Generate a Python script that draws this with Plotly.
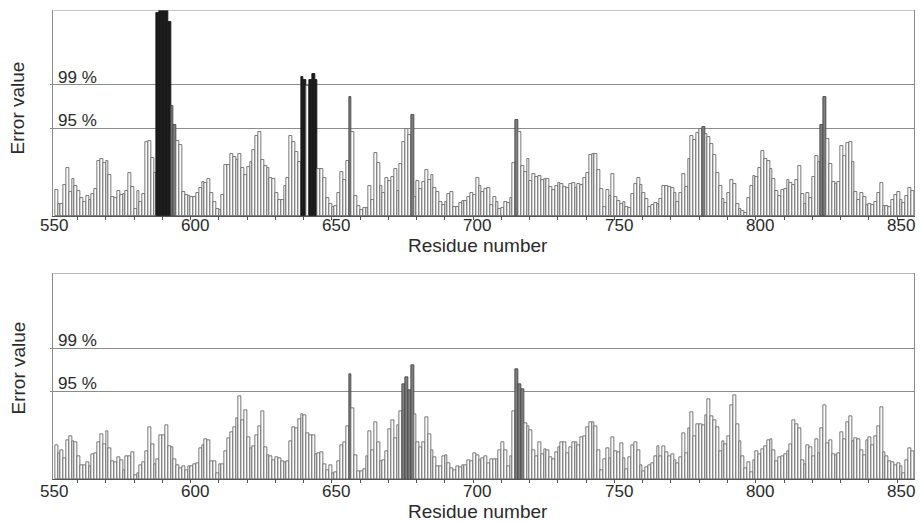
import plotly.graph_objects as go

W, H = 921, 523

# residue numbers (one bar per residue)
residues = list(range(551, 855))

# Error values, upper panel (arbitrary units; plot top = 10)
top_values = [
    1.26, 0.58, 0.58, 1.5, 2.35, 1.18, 1.8, 1.46, 1.21, 0.86,
    0.7, 0.99, 0.78, 1.05, 1.29, 2.69, 2.75, 2.56, 2.65, 1.99,
    0.91, 0.87, 1.21, 1.0, 1.05, 1.21, 2.09, 1.41, 0.32, 1.2,
    0.7, 1.05, 3.58, 3.64, 2.84, 2.09, 9.85, 10.2, 10.4, 10.3,
    9.4, 5.34, 4.42, 3.64, 3.45, 1.15, 1.02, 0.99, 0.94, 0.94,
    1.1, 1.34, 1.67, 1.59, 1.8, 1.13, 0.7, 0.35, 0.3, 1.0,
    2.5, 2.5, 3.0, 2.85, 2.7, 3.0, 2.35, 2.0, 2.4, 2.6,
    3.2, 3.9, 4.1, 2.7, 2.45, 2.35, 1.85, 1.8, 1.1, 0.8,
    0.8, 1.45, 1.85, 3.9, 3.6, 3.1, 2.6, 6.73, 6.62, 6.3,
    6.6, 6.9, 6.6, 2.27, 2.27, 1.83, 0.86, 0.58, 0.45, 0.5,
    1.1, 2.15, 1.75, 2.67, 5.79, 4.09, 0.97, 0.49, 0.29, 0.37,
    0.37, 1.46, 0.78, 3.04, 2.59, 1.46, 1.13, 1.83, 1.7, 1.88,
    2.27, 1.21, 2.51, 3.58, 4.22, 3.93, 4.9, 0.94, 1.7, 1.29,
    1.67, 2.23, 1.75, 1.99, 1.34, 1.18, 0.66, 0.53, 0.7, 1.05,
    1.15, 0.42, 0.42, 0.65, 0.73, 0.73, 0.91, 1.1, 1.02, 1.86,
    1.47, 1.18, 1.31, 1.38, 0.53, 0.94, 0.7, 0.32, 0.37, 0.7,
    0.65, 0.86, 2.59, 4.66, 4.09, 2.44, 2.15, 2.77, 1.7, 2.02,
    1.88, 1.95, 1.75, 1.78, 1.78, 1.42, 1.26, 1.47, 1.62, 1.54,
    1.42, 1.38, 1.54, 1.59, 1.34, 1.54, 1.5, 1.86, 2.07, 2.96,
    3.01, 3.0, 2.23, 1.29, 0.42, 1.26, 0.97, 2.02, 0.94, 0.73,
    0.58, 0.7, 0.42, 0.37, 1.07, 1.54, 1.83, 1.5, 1.1, 0.81,
    0.45, 0.53, 0.61, 0.6, 0.81, 1.46, 1.46, 1.39, 1.38, 1.13,
    0.7, 1.1, 2.02, 1.42, 2.75, 3.88, 3.69, 4.05, 4.21, 4.34,
    3.96, 3.85, 3.48, 2.96, 2.07, 1.46, 0.81, 0.65, 1.13, 1.75,
    1.54, 0.57, 0.32, 0.26, 0.16, 0.86, 1.46, 1.94, 1.91, 2.31,
    3.17, 2.75, 2.69, 2.28, 1.78, 1.21, 0.99, 1.26, 1.31, 1.75,
    1.59, 1.5, 1.75, 2.43, 1.05, 0.58, 1.1, 0.89, 1.91, 2.93,
    2.64, 4.42, 5.76, 3.72, 2.51, 1.67, 1.54, 1.67, 3.4, 2.91,
    3.53, 3.61, 2.64, 1.15, 0.78, 1.1, 0.94, 0.53, 0.58, 0.53,
    0.7, 1.13, 1.62, 0.49, 0.49, 0.42, 0.78, 1.02, 1.18, 0.78,
    0.61, 0.97, 1.34, 1.2,
]

# Error values, lower panel
bottom_values = [
    1.67, 1.26, 1.39, 1.02, 1.91, 2.1, 1.83, 1.78, 1.13, 0.7,
    0.7, 0.81, 0.61, 1.21, 1.26, 1.8, 2.18, 1.7, 2.35, 1.5,
    0.89, 0.81, 1.05, 0.94, 0.42, 1.13, 1.13, 1.33, 0.21, 0.29,
    0.7, 0.81, 1.34, 2.51, 1.7, 0.73, 0.99, 2.15, 2.12, 2.64,
    1.59, 1.54, 0.99, 0.7, 0.53, 0.61, 0.42, 0.65, 0.65, 0.73,
    0.78, 1.5, 1.67, 1.96, 1.91, 0.89, 0.89, 0.29, 0.73, 0.74,
    1.34, 1.99, 2.27, 2.51, 2.96, 4.05, 2.88, 3.37, 2.02, 1.5,
    1.62, 2.15, 2.59, 3.32, 1.54, 1.18, 1.1, 0.94, 1.05, 1.02,
    0.86, 0.81, 0.86, 1.83, 2.52, 2.48, 2.91, 3.16, 3.09, 2.23,
    2.15, 2.15, 1.21, 1.26, 1.3, 0.75, 0.45, 0.7, 0.29, 0.34,
    0.86, 1.67, 1.78, 2.59, 5.1, 3.46, 1.18, 0.4, 0.4, 0.5,
    1.13, 2.31, 1.42, 2.75, 1.8, 0.89, 0.94, 1.34, 2.43, 2.88,
    2.0, 2.6, 3.32, 4.61, 4.93, 4.33, 5.55, 3.16, 1.78, 1.54,
    1.78, 2.99, 2.2, 1.42, 1.07, 0.65, 0.65, 1.13, 1.18, 0.78,
    0.53, 0.42, 0.61, 0.58, 0.7, 0.66, 0.94, 0.86, 1.26, 1.15,
    0.94, 1.02, 1.1, 0.78, 0.97, 0.97, 0.99, 1.39, 1.78, 1.42,
    0.61, 1.1, 3.28, 5.34, 4.63, 4.37, 2.72, 2.56, 2.4, 1.39,
    1.1, 1.8, 1.21, 1.47, 1.42, 1.07, 0.99, 1.29, 1.54, 1.78,
    1.78, 1.26, 1.55, 1.78, 1.78, 1.67, 2.04, 2.07, 2.51, 2.77,
    2.77, 2.56, 1.42, 0.45, 0.97, 1.5, 1.02, 2.02, 1.34, 1.29,
    1.75, 1.02, 0.49, 1.05, 1.67, 1.78, 1.39, 0.7, 0.37, 0.58,
    0.66, 0.78, 1.13, 1.59, 1.13, 1.59, 1.29, 1.13, 1.21, 0.94,
    0.78, 1.05, 2.23, 1.26, 2.48, 3.24, 2.07, 2.69, 2.67, 2.61,
    3.12, 3.9, 3.07, 2.88, 2.51, 1.34, 1.83, 1.7, 2.07, 3.61,
    4.06, 2.67, 1.83, 1.1, 0.53, 0.81, 0.32, 0.91, 1.34, 1.21,
    1.46, 1.62, 1.91, 1.94, 1.39, 0.86, 1.05, 1.1, 1.21, 1.38,
    1.7, 2.88, 2.67, 2.48, 0.94, 0.74, 1.63, 1.54, 1.13, 1.94,
    1.26, 2.48, 3.58, 1.75, 1.91, 1.23, 1.15, 1.26, 2.27, 1.96,
    2.75, 3.07, 1.83, 1.99, 1.94, 1.39, 1.18, 1.91, 2.04, 1.67,
    2.07, 2.56, 3.48, 1.29, 1.1, 0.89, 0.81, 0.7, 0.78, 0.61,
    0.29, 0.94, 1.5, 1.38,
]

# highlighted residues
top_black = [587, 588, 589, 590, 591, 638, 639, 641, 642, 643]
top_gray = [592, 593, 655, 677, 714, 780, 822, 823]
bottom_black = []
bottom_gray = [655, 674, 675, 676, 677, 714, 715, 716]

# significance thresholds (same units as values)
threshold_labels = ["95 %", "99 %"]
threshold_values = [4.27, 6.36]
y_top = 10

x_ticks = [550, 600, 650, 700, 750, 800, 850]

FONT = "Liberation Sans, Arial, Helvetica, sans-serif"
FRAME = "#8c8c8c"
TEXT = "#2a2a2a"


def bar_style(black, gray):
    fills, lines = [], []
    for r in residues:
        if r in black:
            fills.append("#1b1b1b"); lines.append("#1b1b1b")
        elif r in gray:
            fills.append("#7d7d7d"); lines.append("#4a4a4a")
        else:
            fills.append("#fbfbfb"); lines.append("#6a6a6a")
    return fills, lines


def px_x(p):
    return p / W


def px_y(p):
    return 1 - p / H


fig = go.Figure()

panels = [
    dict(vals=top_values, black=top_black, gray=top_gray, xa="x", ya="y",
         top=10.0, bottom=216.0, tick_y=226, xlab_y=245, ylab_y=108),
    dict(vals=bottom_values, black=bottom_black, gray=bottom_gray, xa="x2", ya="y2",
         top=273.3, bottom=479.3, tick_y=491, xlab_y=511, ylab_y=368),
]

x_dom = [px_x(53.3), px_x(914.0)]
shapes = []
annotations = []

for i, p in enumerate(panels):
    fills, lines = bar_style(p["black"], p["gray"])
    fig.add_trace(go.Bar(
        x=residues, y=p["vals"], width=1.0,
        marker=dict(color=fills, line=dict(color=lines, width=0.9)),
        xaxis=p["xa"], yaxis=p["ya"], showlegend=False, hoverinfo="x+y",
    ))
    suffix = "" if i == 0 else "2"
    fig.layout["xaxis" + suffix] = dict(
        domain=x_dom, anchor=p["ya"], range=[549.9, 854.5],
        showticklabels=False, ticks="", showgrid=False, zeroline=False,
        showline=True, linecolor="#555555", linewidth=1,
        minor=dict(tickmode="linear", tick0=558.5, dtick=10, ticks="outside",
                   ticklen=3, tickcolor="#555555", showgrid=False),
    )
    fig.layout["yaxis" + suffix] = dict(
        domain=[px_y(p["bottom"]), px_y(p["top"])], anchor=p["xa"],
        range=[0, y_top], tickmode="array", tickvals=threshold_values,
        ticks="outside", ticklen=2, tickcolor=FRAME, showticklabels=False,
        showgrid=True, gridcolor=FRAME, gridwidth=1, zeroline=False,
        showline=True, linecolor=FRAME, linewidth=1, mirror=True,
    )
    shapes.append(dict(type="line", xref=p["xa"] + " domain", yref=p["ya"],
                       x0=0, x1=1, y0=y_top, y1=y_top,
                       line=dict(color=FRAME, width=1)))
    for t in x_ticks:
        annotations.append(dict(
            text=str(t), xref=p["xa"], yref="paper", x=t, y=px_y(p["tick_y"]),
            xanchor="center", yanchor="middle", showarrow=False, borderpad=0,
            font=dict(family=FONT, size=17, color=TEXT)))
    for lab, val in zip(threshold_labels, threshold_values):
        annotations.append(dict(
            text=lab, xref=p["xa"] + " domain", yref=p["ya"], x=0.004, y=val,
            xanchor="left", yanchor="bottom", showarrow=False, yshift=-3, borderpad=0,
            font=dict(family=FONT, size=17, color=TEXT)))
    annotations.append(dict(
        text="Error value", xref="paper", yref="paper", x=px_x(17.5), y=px_y(p["ylab_y"]),
        xanchor="center", yanchor="middle", textangle=-90, showarrow=False, borderpad=0,
        font=dict(family=FONT, size=19, color=TEXT)))
    annotations.append(dict(
        text="Residue number", xref="paper", yref="paper", x=px_x(478), y=px_y(p["xlab_y"]),
        xanchor="center", yanchor="middle", showarrow=False, borderpad=0,
        font=dict(family=FONT, size=19, color=TEXT)))

fig.update_layout(
    width=W, height=H, margin=dict(l=0, r=0, t=0, b=0, autoexpand=False),
    plot_bgcolor="white", paper_bgcolor="white",
    bargap=0, showlegend=False, shapes=shapes, annotations=annotations,
)

post = (
    "document.documentElement.style.margin='0';"
    "document.body.style.margin='0';document.body.style.padding='0';"
    "document.body.style.overflow='hidden';"
    "var gd=document.getElementById('{plot_id}');"
    "gd.style.position='absolute';gd.style.left='0px';gd.style.top='0px';"
    "Plotly.relayout(gd,{width:921,height:523});"
)

fig.write_html("out.html", config={"responsive": False, "displayModeBar": False},
               post_script=post)
